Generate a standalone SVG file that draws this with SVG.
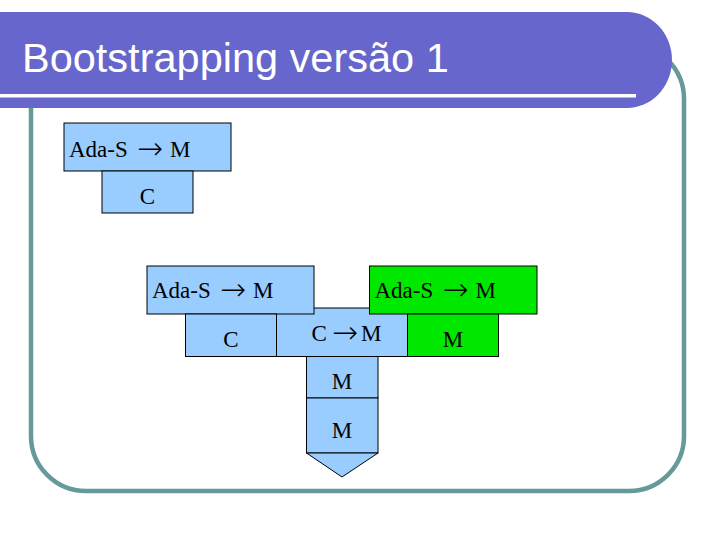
<svg xmlns="http://www.w3.org/2000/svg" width="720" height="540" viewBox="0 0 720 540">
<style>
.b{fill:#99CCFF;stroke:#000;stroke-width:1}
.g{fill:#00E800;stroke:#000;stroke-width:1}
.t{font-family:"Liberation Serif","Times New Roman",serif;font-size:23px;fill:#000}
.c{text-anchor:middle}
.a{font-family:"DejaVu Sans",sans-serif;font-size:31px;font-weight:200}
</style>
<rect x="31" y="44" width="653" height="447" rx="55" ry="55" fill="#fff" stroke="#669999" stroke-width="4.5"/>
<g id="title">
<path d="M0 12 H627 A45 48 0 0 1 672 60 A45 48 0 0 1 627 108 H0 Z" fill="#6666CC"/>
<rect x="0" y="94" width="636" height="3.5" fill="#fff"/>
<text x="22" y="72" font-family="Liberation Sans,Arial,sans-serif" font-size="41.5" fill="#fff">Bootstrapping versão 1</text>
</g>
<g id="connectors"/>
<g id="n1"><rect class="b" x="64" y="123" width="167" height="48"/><text class="t"><tspan x="69" y="157">Ada-S</tspan><tspan class="a" x="137" y="159">→</tspan><tspan x="170" y="157">M</tspan></text></g>
<g id="n2"><rect class="b" x="102" y="171" width="91" height="42"/><text class="t c" x="147.5" y="204">C</text></g>
<g id="n5"><rect class="b" x="276.5" y="308" width="131" height="48.5"/><text class="t"><tspan x="311.5" y="341">C</tspan><tspan class="a" x="332" y="343">→</tspan><tspan x="361" y="341">M</tspan></text></g>
<g id="n3"><rect class="b" x="147" y="266" width="167" height="48"/><text class="t"><tspan x="152" y="298">Ada-S</tspan><tspan class="a" x="220" y="300">→</tspan><tspan x="253" y="298">M</tspan></text></g>
<g id="n4"><rect class="b" x="185.5" y="314" width="91" height="42.5"/><text class="t c" x="231" y="347">C</text></g>
<g id="n6"><rect class="g" x="369.5" y="266" width="167.5" height="48"/><text class="t"><tspan x="374.5" y="298">Ada-S</tspan><tspan class="a" x="442.5" y="300">→</tspan><tspan x="475.5" y="298">M</tspan></text></g>
<g id="n7"><rect class="g" x="407.5" y="314" width="91" height="42.5"/><text class="t c" x="453" y="347">M</text></g>
<g id="n8"><rect class="b" x="306.5" y="356.5" width="71.5" height="41.5"/><text class="t c" x="342" y="389">M</text></g>
<g id="n9"><rect class="b" x="306.5" y="398" width="71.5" height="55"/><polygon class="b" points="306.5,453 378,453 342,477"/><text class="t c" x="342" y="438">M</text></g>
</svg>
